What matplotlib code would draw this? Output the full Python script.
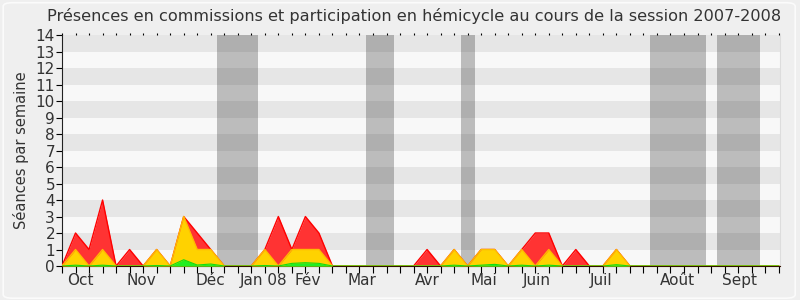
import matplotlib
matplotlib.use('Agg')
import matplotlib.pyplot as plt
from matplotlib.patches import FancyBboxPatch
import numpy as np

# Weekly values, session 2007-2008 (week index 0..53)
weeks = np.arange(54)
total = [0, 2, 1, 4, 0, 1, 0, 1, 0, 3, 2, 1, 0, 0, 0, 1, 3, 1, 3, 2,
         0, 0, 0, 0, 0, 0, 0, 1, 0, 1, 0, 1, 1, 0, 1, 2, 2, 0, 1, 0,
         0, 1, 0, 0, 0, 0, 0, 0, 0, 0, 0, 0, 0, 0]
commission = [0, 1, 0, 1, 0, 0, 0, 1, 0, 3, 1, 1, 0, 0, 0, 1, 0, 1, 1, 1,
              0, 0, 0, 0, 0, 0, 0, 0, 0, 1, 0, 1, 1, 0, 1, 0, 1, 0, 0, 0,
              0, 1, 0, 0, 0, 0, 0, 0, 0, 0, 0, 0, 0, 0]
hemicycle = [0, 0.05, 0, 0.05, 0, 0, 0, 0.03, 0, 0.38, 0.06, 0.12, 0, 0, 0, 0.03,
             0, 0.16, 0.2, 0.16, 0, 0, 0, 0, 0, 0, 0, 0, 0, 0.05, 0, 0.05,
             0.1, 0, 0.05, 0, 0.05, 0, 0, 0, 0, 0.08, 0, 0, 0, 0, 0, 0, 0,
             0, 0, 0, 0, 0]

# Holiday periods (in weeks)
holidays = [(11.47, 14.48), (22.47, 24.55), (29.5, 30.55), (43.5, 47.6), (48.45, 51.6)]

month_labels = ['Oct', 'Nov', 'Déc', 'Jan 08', 'Fév', 'Mar', 'Avr', 'Mai',
                'Juin', 'Juil', 'Août', 'Sept']
month_pos = [1.35, 5.9, 10.95, 14.9, 18.2, 22.2, 27.05, 31.2, 35.1, 39.9, 45.5, 50.1]

fig = plt.figure(figsize=(8, 3), dpi=100)
fig.patch.set_facecolor('#efefef')
fig.patches.append(FancyBboxPatch((0.004, 0.006), 0.99, 0.985,
                                  boxstyle='round,pad=0,rounding_size=0.012',
                                  transform=fig.transFigure, facecolor='none',
                                  edgecolor='#fbfbfb', linewidth=1.2))
ax = fig.add_axes([0.0775, 0.1133, 0.8975, 0.77])

# striped background
for y in range(14):
    ax.axhspan(y, y + 1, color='#e6e6e6' if y % 2 else '#f8f8f8', lw=0, zorder=0)

# holidays
for a, b in holidays:
    ax.axvspan(a, b, color='black', alpha=0.24, lw=0, zorder=1)

ax.fill_between(weeks, total, color='#ff3333', lw=0, zorder=2)
ax.plot(weeks, total, color='#ff0000', lw=1, zorder=3)
ax.fill_between(weeks, commission, color='#ffd200', lw=0, zorder=4)
ax.plot(weeks, commission, color='#ffbb00', lw=1, zorder=5)
ax.fill_between(weeks, hemicycle, color='#22ee22', lw=0, zorder=6)
ax.plot(weeks, hemicycle, color='#11dd11', lw=0.8, zorder=7)

ax.set_xlim(0, 53.1)
ax.set_ylim(0, 14)
ax.set_yticks(range(15))
ax.set_xticks(weeks)
ax.set_xticklabels([])
ax.tick_params(axis='y', length=4, labelsize=11, labelcolor='#333333', pad=1)
ax.tick_params(axis='x', length=5, top=True, bottom=True, direction='out')
for t in ax.xaxis.get_major_ticks():
    t.tick2line.set_markersize(1.5)
ax.set_xticks(month_pos, minor=True)
ax.set_xticklabels(month_labels, minor=True)
ax.tick_params(axis='x', which='minor', length=0, labelsize=11,
               labelcolor='#333333', pad=5)

ax.spines['top'].set_visible(False)
ax.spines['right'].set_color('#dddddd')
ax.spines['left'].set_color('#222222')
ax.spines['bottom'].set_color('#331100')

ax.set_ylabel('Séances par semaine', fontsize=10.5, color='#333333', labelpad=5)
fig.text(0.517, 0.945, 'Présences en commissions et participation en hémicycle '
         'au cours de la session 2007-2008', ha='center', va='center',
         fontsize=11.6, color='#333333')

fig.savefig('out.png', dpi=100, facecolor=fig.get_facecolor())
